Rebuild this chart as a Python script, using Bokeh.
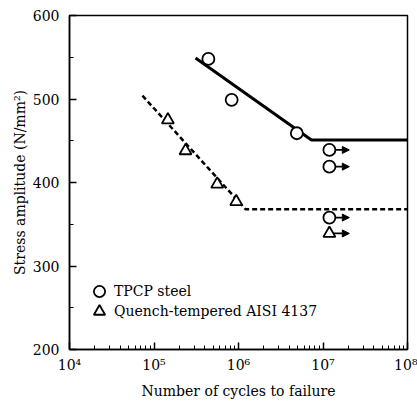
from bokeh.plotting import figure
from bokeh.models import (ColumnDataSource, Arrow, NormalHead, Legend, LegendItem,
                          LogTicker, FixedTicker, CustomJSTickFormatter, Range1d)
from bokeh.embed import file_html
from bokeh.resources import INLINE

# --- data ---
tpcp_cycles = [4.4e5, 8.3e5, 4.9e6, 1.19e7, 1.19e7, 1.19e7]
tpcp_stress = [548, 499, 459, 439, 419, 358]
qt_cycles = [1.46e5, 2.36e5, 5.6e5, 9.4e5, 1.19e7]
qt_stress = [475, 438, 398, 377, 339]

runout_start = [1.19e7, 1.19e7, 1.19e7, 1.19e7]
runout_end = [2.05e7, 2.05e7, 2.05e7, 2.05e7]
runout_stress = [439, 419, 358, 339]

tpcp_fit_x = [3.1e5, 7.3e6, 1e8]
tpcp_fit_y = [549, 451, 451]
qt_fit_x = [7.3e4, 1.21e6, 1e8]
qt_fit_y = [504, 368, 368]

series_labels = ["TPCP steel", "Quench-tempered AISI 4137"]

FONT = "DejaVu Serif"

p = figure(width=417, height=404, x_axis_type="log",
           x_range=Range1d(1e4, 1e8), y_range=Range1d(200, 600),
           output_backend="svg", toolbar_location=None,
           min_border_left=69, min_border_right=10, min_border_top=15, min_border_bottom=55)
p.background_fill_color = "white"
p.border_fill_color = "white"
p.outline_line_color = "black"
p.outline_line_width = 1.5
p.xgrid.visible = False
p.ygrid.visible = False

# fitted lines
p.line(tpcp_fit_x, tpcp_fit_y, line_color="black", line_width=3)
p.line(qt_fit_x, qt_fit_y, line_color="black", line_width=2.5, line_dash="5 3")

# run-out arrows
asrc = ColumnDataSource(dict(x0=runout_start, x1=runout_end, y=runout_stress))
arr = Arrow(end=NormalHead(size=7, fill_color="black", line_color="black"),
            x_start="x0", y_start="y", x_end="x1", y_end="y", source=asrc,
            line_color="black", line_width=1.8, level="underlay")
p.add_layout(arr)

r1 = p.scatter(tpcp_cycles, tpcp_stress, marker="circle", size=12,
               line_color="black", line_width=1.8, fill_color="white")
r2 = p.scatter(qt_cycles, qt_stress, marker="triangle", size=12,
               line_color="black", line_width=1.8, fill_color="white")

for rend, lab, loc in ((r1, series_labels[0], (16, 44)), (r2, series_labels[1], (16, 24))):
    lg = Legend(items=[LegendItem(label=lab, renderers=[rend])],
                location=loc, border_line_color=None, background_fill_alpha=0,
                padding=0, margin=0, spacing=0, glyph_width=28, glyph_height=28,
                label_height=19, label_standoff=1,
                label_text_font=FONT, label_text_font_size="14px",
                label_text_color="black")
    p.add_layout(lg, "center")

# axes
p.xaxis.ticker = LogTicker(num_minor_ticks=10)
p.xaxis.formatter = CustomJSTickFormatter(code="""
const sup = {'0':'\u2070','1':'\u00b9','2':'\u00b2','3':'\u00b3','4':'\u2074','5':'\u2075','6':'\u2076','7':'\u2077','8':'\u2078','9':'\u2079'};
const e = Math.round(Math.log10(tick));
return '10' + String(e).split('').map(c => sup[c]).join('');
""")
p.yaxis.ticker = FixedTicker(ticks=[200, 300, 400, 500, 600], minor_ticks=[250, 350, 450, 550])

for ax in (p.xaxis[0], p.yaxis[0]):
    ax.major_tick_in = 7
    ax.major_tick_out = 0
    ax.minor_tick_in = 4
    ax.minor_tick_out = 0
    ax.axis_line_width = 1.5
    ax.major_tick_line_width = 1.5
    ax.minor_tick_line_width = 1
    ax.major_label_text_font = FONT
    ax.major_label_text_font_size = "14px"
    ax.major_label_text_color = "black"
    ax.axis_label_text_font = FONT
    ax.axis_label_text_font_size = "14px"
    ax.axis_label_text_font_style = "normal"
    ax.axis_label_text_color = "black"

p.yaxis.major_label_standoff = 10
p.xaxis.major_label_standoff = 7
p.xaxis.axis_label = "Number of cycles to failure"
p.yaxis.axis_label = "Stress amplitude (N/mm\u00b2)"
p.xaxis.axis_label_standoff = 7
p.yaxis.axis_label_standoff = 2

open("out.html", "w").write(file_html(p, INLINE))
